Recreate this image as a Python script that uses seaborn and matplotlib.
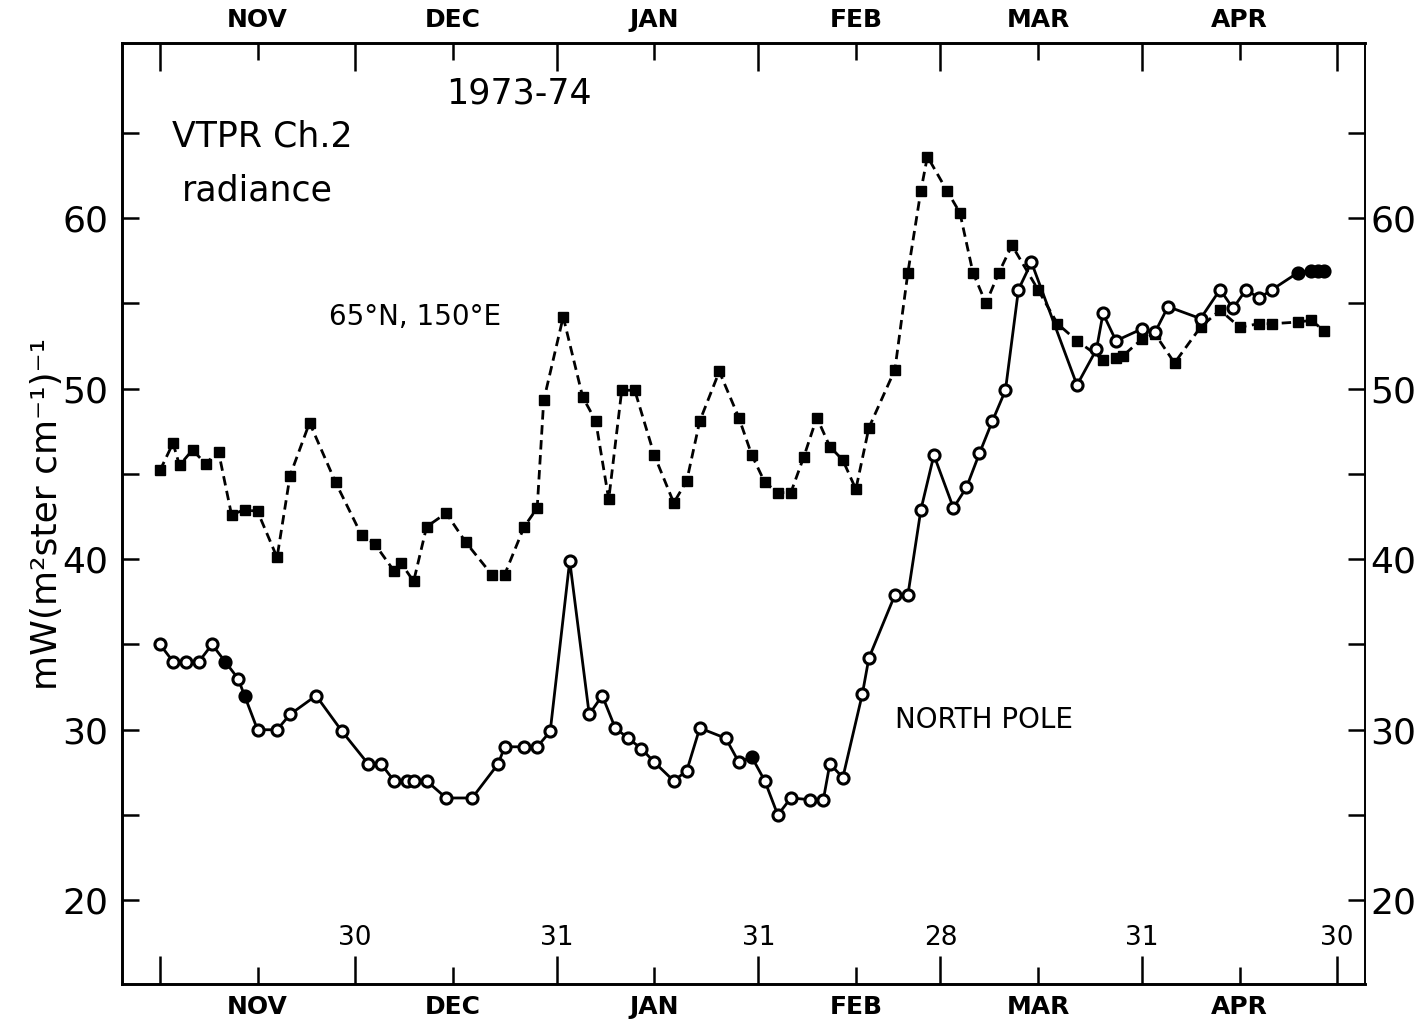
import matplotlib
matplotlib.use("Agg")
import matplotlib.pyplot as plt
import matplotlib.transforms as mtransforms
import pandas as pd
import seaborn as sns

# Days are counted from 31 Oct 1973 (day 0) to 30 Apr 1974 (day 181)
site_days = [0, 2, 3, 5, 7, 9, 11, 13, 15, 18, 20, 23, 27, 31, 33, 36, 37, 39, 41, 44,
             47, 51, 53, 56, 58, 59, 62, 65, 67, 69, 71, 73, 76, 79, 81, 83, 86, 89, 91, 93,
             95, 97, 99, 101, 103, 105, 107, 109, 113, 115, 117, 118, 121, 123, 125, 127, 129,
             131, 135, 138, 141, 145, 147, 148, 151, 153, 156, 160, 163, 166, 169, 171, 175,
             177, 179]
site_radiance = [45.2, 46.8, 45.5, 46.4, 45.6, 46.3, 42.6, 42.9, 42.8, 40.1,
                 44.9, 48.0, 44.5, 41.4, 40.9, 39.3, 39.8, 38.7, 41.9, 42.7,
                 41.0, 39.1, 39.1, 41.9, 43.0, 49.3, 54.2, 49.5, 48.1, 43.5,
                 49.9, 49.9, 46.1, 43.3, 44.6, 48.1, 51.0, 48.3, 46.1, 44.5,
                 43.9, 43.9, 46.0, 48.3, 46.6, 45.8, 44.1, 47.7, 51.1, 56.8,
                 61.6, 63.6, 61.6, 60.3, 56.8, 55.0, 56.8, 58.4, 55.8, 53.8,
                 52.8, 51.7, 51.8, 51.9, 52.9, 53.2, 51.5, 53.6, 54.6, 53.6,
                 53.8, 53.8, 53.9, 54.0, 53.4]

pole_days = [0, 2, 4, 6, 8, 10, 12, 13, 15, 18, 20, 24, 28, 32, 34, 36, 38, 39, 41, 44,
             48, 52, 53, 56, 58, 60, 63, 66, 68, 70, 72, 74, 76, 79, 81, 83, 87, 89, 91, 93,
             95, 97, 100, 102, 103, 105, 108, 109, 113, 115, 117, 119, 122, 124, 126, 128,
             130, 132, 134, 141, 144, 145, 147, 151, 153, 155, 160, 163, 165, 167, 169, 171,
             175, 177, 178, 179]
pole_radiance = [35.0, 34.0, 34.0, 34.0, 35.0, 34.0, 33.0, 32.0, 30.0, 30.0,
                 30.9, 32.0, 29.9, 28.0, 28.0, 27.0, 27.0, 27.0, 27.0, 26.0,
                 26.0, 28.0, 29.0, 29.0, 29.0, 29.9, 39.9, 30.9, 32.0, 30.1,
                 29.5, 28.9, 28.1, 27.0, 27.6, 30.1, 29.5, 28.1, 28.4, 27.0,
                 25.0, 26.0, 25.9, 25.9, 28.0, 27.2, 32.1, 34.2, 37.9, 37.9,
                 42.9, 46.1, 43.0, 44.2, 46.2, 48.1, 49.9, 55.8, 57.4, 50.2,
                 52.3, 54.4, 52.8, 53.5, 53.3, 54.8, 54.1, 55.8, 54.7, 55.8,
                 55.3, 55.8, 56.8, 56.9, 56.9, 56.9]
pole_filled_days = [10, 13, 91, 175, 177, 178, 179]

month_end_days = [0, 30, 61, 92, 120, 151, 181]
month_end_labels = ["", "30", "31", "31", "28", "31", "30"]
mid_month_days = [15, 45, 76, 107, 135, 166]
month_names = ["NOV", "DEC", "JAN", "FEB", "MAR", "APR"]

y_ticks = [20, 25, 30, 35, 40, 45, 50, 55, 60, 65]
y_tick_labels = ["20", "", "30", "", "40", "", "50", "", "60", ""]

sns.set_style("ticks")
plt.rcParams["font.family"] = ["DejaVu Sans"]
plt.rcParams.update({"text.color": "black", "axes.labelcolor": "black",
                     "xtick.color": "black", "ytick.color": "black",
                     "axes.edgecolor": "black"})

site = pd.DataFrame({"day": site_days, "radiance": site_radiance})
pole = pd.DataFrame({"day": pole_days, "radiance": pole_radiance})
pole_filled = pole[pole["day"].isin(pole_filled_days)]

fig = plt.figure(figsize=(14.23, 10.26), dpi=100)
ax = fig.add_axes([0.0857, 0.041, 0.8736, 0.917])

sns.lineplot(data=site, x="day", y="radiance", ax=ax, color="black",
             linestyle="--", linewidth=2.0, marker="s", markersize=7.2,
             markerfacecolor="black", markeredgecolor="black", markeredgewidth=1,
             estimator=None, sort=False, zorder=2)
ax.lines[-1].set_dashes([3.4, 2.0])

sns.lineplot(data=pole, x="day", y="radiance", ax=ax, color="black",
             linestyle="-", linewidth=2.0, marker="o", markersize=8,
             markerfacecolor="white", markeredgecolor="black", markeredgewidth=2.2,
             estimator=None, sort=False, zorder=3)
sns.scatterplot(data=pole_filled, x="day", y="radiance", ax=ax, color="black",
                marker="o", s=70, edgecolor="black", linewidth=1, zorder=4)

ax.set_xlim(-5.85, 185.3)
ax.set_ylim(15.1, 70.25)
ax.set_xlabel("")
ax.set_ylabel("mW(m²ster cm⁻¹)⁻¹", fontsize=26)
ax.yaxis.set_label_coords(-0.047, 0.5)

# x axis: long ticks at month ends, short ticks mid-month carrying the month names
ax.set_xticks(month_end_days)
ax.set_xticklabels([""] * len(month_end_days))
ax.set_xticks(mid_month_days, minor=True)
ax.set_xticklabels(month_names, minor=True, fontweight="bold")
ax.tick_params(axis="x", which="major", direction="in", length=20, width=1.8,
               top=True, bottom=True, labelbottom=False, labeltop=False)
ax.tick_params(axis="x", which="minor", direction="in", length=12, width=1.8,
               top=True, bottom=True, labelbottom=True, labeltop=True,
               labelsize=18, pad=8)

# y axis: ticks every 5 on both sides, labelled every 10
ax.set_yticks(y_ticks)
ax.set_yticklabels(y_tick_labels)
ax.tick_params(axis="y", direction="in", length=12, width=1.8, left=True,
               right=False, labelsize=26, pad=10)

ax2 = ax.twinx()
ax2.set_ylim(ax.get_ylim())
ax2.set_yticks(y_ticks)
ax2.set_yticklabels(y_tick_labels)
ax2.tick_params(axis="y", direction="in", length=12, width=1.8, labelsize=26, pad=4)

for a in (ax, ax2):
    for side in ("left", "bottom", "top"):
        a.spines[side].set_linewidth(1.9)
    a.spines["right"].set_linewidth(1.2)

# day-of-month numbers just above the bottom axis
trans = mtransforms.blended_transform_factory(ax.transData, ax.transAxes)
for d, lab in zip(month_end_days, month_end_labels):
    if lab:
        ax.text(d, 0.049, lab, transform=trans, ha="center", va="center", fontsize=19)

ax.text(44, 66.7, "1973-74", fontsize=25, ha="left", va="baseline")
ax.text(1.8, 64.2, "VTPR Ch.2", fontsize=25, ha="left", va="baseline")
ax.text(3.4, 61.05, "radiance", fontsize=25, ha="left", va="baseline")
ax.text(26, 53.7, "65°N, 150°E", fontsize=20, ha="left", va="baseline")
ax.text(113, 30.1, "NORTH POLE", fontsize=20, ha="left", va="baseline")

fig.savefig("out.png", dpi=100)
